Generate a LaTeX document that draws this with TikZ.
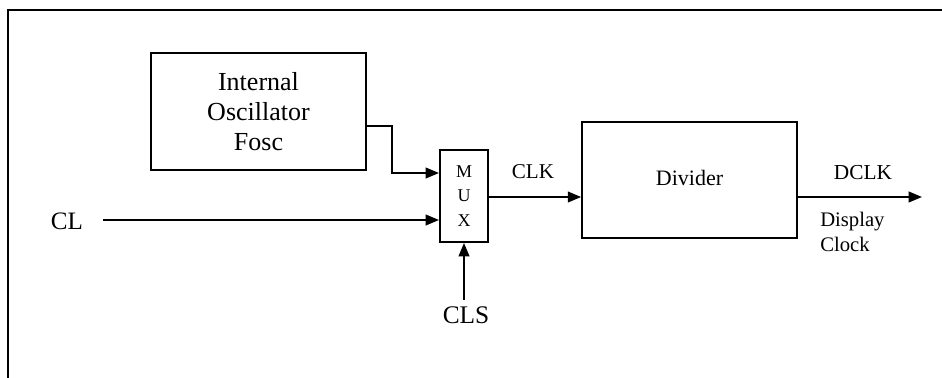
\documentclass[tikz,border=0pt]{standalone}
\usepackage{fontspec}
\setmainfont{Liberation Serif}
\usetikzlibrary{arrows.meta}
\tikzset{
  blk/.style={draw, line width=1.5pt, inner sep=0pt, align=center},
  arr/.style={line width=1.4pt, -{Triangle[length=10pt,width=8pt]}},
  lbl/.style={inner sep=0pt, align=center}
}
\begin{document}
\begin{tikzpicture}[x=0.75pt,y=-0.75pt]
\useasboundingbox (0,0) rectangle (942,378);
% frame
\draw[line width=1.5pt] (8,378) -- (8,10) -- (942,10);
% blocks
\node[blk, minimum width=161pt, minimum height=88pt,
      font=\fontsize{19.5}{22.5}\selectfont] (osc) at (258.5,111.5)
      {Internal\\Oscillator\\Fosc};
\node[blk, minimum width=36pt, minimum height=69pt,
      font=\fontsize{13.5}{18.5}\selectfont] (mux) at (464,196)
      {M\\U\\X};
\node[blk, minimum width=161pt, minimum height=87pt,
      font=\fontsize{16.5}{20}\selectfont] (div) at (689.5,180)
      {\raisebox{3pt}{Divider}};
% labels
\node[lbl, font=\fontsize{18.8}{22}\selectfont] (cl) at (67,221) {CL};
\node[lbl, font=\fontsize{19}{22}\selectfont, anchor=north] (cls) at (466,306) {CLS};
\node[lbl, font=\fontsize{15.8}{19}\selectfont] (clk) at (533,172) {CLK};
\node[lbl, font=\fontsize{16}{19}\selectfont] (dclk) at (863,173) {DCLK};
\node[lbl, font=\fontsize{15.5}{18.8}\selectfont, align=left, anchor=west] (disp) at (820,232)
      {Display\\Clock};
% coordinates for free ends
\coordinate (clin) at (103,220);
\coordinate (dout) at (922,197);
\coordinate (clsin) at (464,300);
% connectors
\draw[arr] (osc.east |- 0,126) -- (392,126) |- (mux.west |- 0,173);
\draw[arr] (clin) -- (mux.west |- clin);
\draw[arr] (clsin) -- (mux.south);
\draw[arr] (mux.east |- 0,197) -- (div.west |- 0,197);
\draw[arr] (div.east |- dout) -- (dout);
\end{tikzpicture}
\end{document}
